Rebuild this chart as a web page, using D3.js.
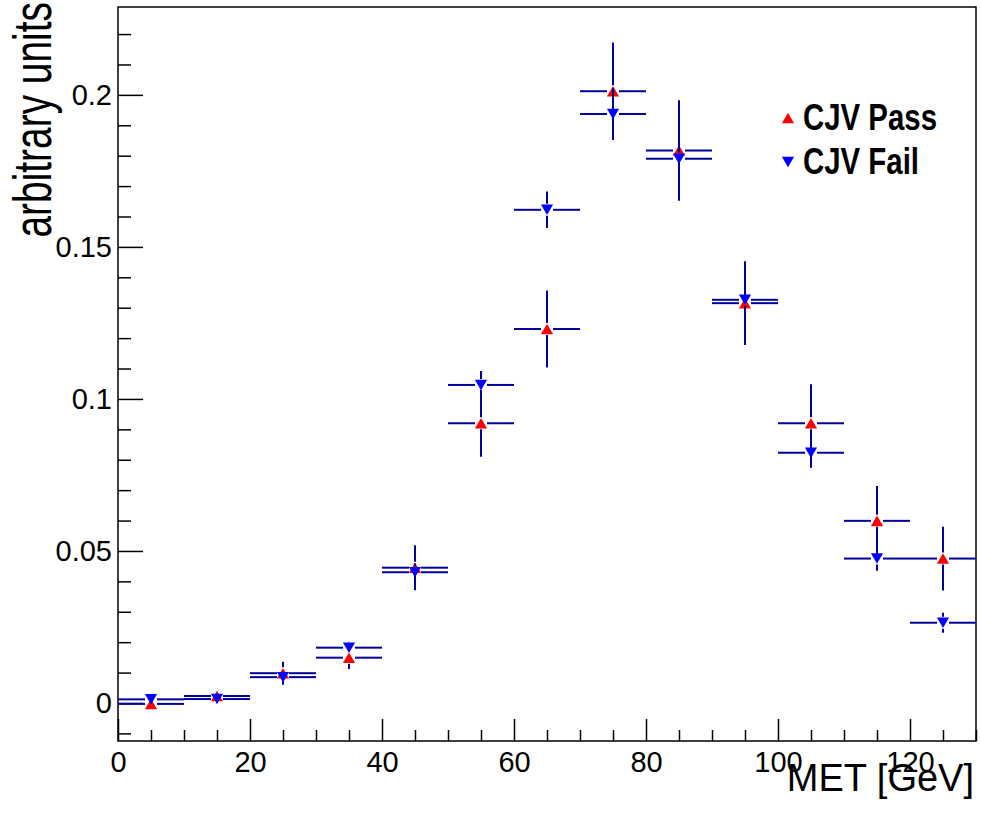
<!DOCTYPE html>
<html lang="en">
<head>
<meta charset="UTF-8">
<title>CJV Pass / Fail MET</title>
<style>
  body { margin: 0; background: #fff; }
  svg text { font-family: "Liberation Sans", Arial, Helvetica, sans-serif; }
</style>
</head>
<body>
<div id="chart"></div>
<script src="https://cdn.jsdelivr.net/npm/d3@7/dist/d3.min.js"></script>
<script>
// bin centres (GeV), each bin is 10 GeV wide
const binCenters = [5, 15, 25, 35, 45, 55, 65, 75, 85, 95, 105, 115, 125];
const binWidth = 10;

// CJV Pass
const passVals = [-0.0003, 0.0023, 0.0098, 0.0149, 0.0445, 0.092, 0.123, 0.2012, 0.1817, 0.1315, 0.092, 0.0599, 0.0475];
const passErr  = [0.0008, 0.0012, 0.0038, 0.0037, 0.0074, 0.011, 0.0127, 0.016, 0.0165, 0.0138, 0.0128, 0.0115, 0.0105];

// CJV Fail
const failVals = [0.0012, 0.0013, 0.0085, 0.0182, 0.043, 0.1046, 0.1622, 0.1937, 0.179, 0.1326, 0.0823, 0.0475, 0.0264];
const failErr  = [0.0005, 0.0007, 0.002, 0.002, 0.003, 0.0046, 0.006, 0.0085, 0.009, 0.0075, 0.0049, 0.004, 0.0033];

const seriesNames = ["CJV Pass", "CJV Fail"];
const xMajorTicks = [0, 20, 40, 60, 80, 100, 120];
const yMajorTicks = [0, 0.05, 0.1, 0.15, 0.2];
const yTickLabels = ["0", "0.05", "0.1", "0.15", "0.2"];

const width = 981, height = 827;
const plotLeft = 118, plotRight = 976, plotTop = 7, plotBottom = 741;

const svg = d3.select("#chart").append("svg")
  .attr("width", width)
  .attr("height", height);

const x = d3.scaleLinear().domain([0, 130]).range([plotLeft, plotRight]);
const y = d3.scaleLinear().domain([-0.0125, 0.2289]).range([plotBottom, plotTop]);

// frame
svg.append("rect")
  .attr("x", plotLeft).attr("y", plotTop)
  .attr("width", plotRight - plotLeft).attr("height", plotBottom - plotTop)
  .attr("fill", "none").attr("stroke", "#000").attr("stroke-width", 1.5);

// x axis: major + minor ticks pointing inward
const xMinor = d3.range(0, 131, 5).filter(v => v % 20 !== 0);
svg.append("g")
  .attr("transform", `translate(0,${plotBottom})`)
  .call(d3.axisBottom(x).tickValues(xMinor).tickSize(-11).tickFormat(""))
  .call(g => g.select(".domain").remove());
svg.append("g")
  .attr("transform", `translate(0,${plotBottom})`)
  .call(d3.axisBottom(x).tickValues(xMajorTicks).tickSize(-22).tickPadding(0).tickFormat(d3.format("d")))
  .call(g => g.select(".domain").remove())
  .call(g => g.selectAll("text").style("font-size", "29px").attr("fill", "#000")
    .attr("y", 0).attr("dy", null).attr("dominant-baseline", "auto").attr("transform", "translate(0,31)"));

// y axis
const yMinor = d3.range(-1, 23).map(i => i / 100).filter(v => Math.round(v * 100) % 5 !== 0);
svg.append("g")
  .attr("transform", `translate(${plotLeft},0)`)
  .call(d3.axisLeft(y).tickValues(yMinor).tickSize(-13).tickFormat(""))
  .call(g => g.select(".domain").remove());
svg.append("g")
  .attr("transform", `translate(${plotLeft},0)`)
  .call(d3.axisLeft(y).tickValues(yMajorTicks).tickSize(-25).tickPadding(6)
    .tickFormat((d, i) => yTickLabels[i]))
  .call(g => g.select(".domain").remove())
  .call(g => g.selectAll("text").style("font-size", "29px").attr("fill", "#000"));

svg.selectAll(".tick line").attr("stroke", "#000").attr("stroke-width", 1.5);

// axis titles
svg.append("text")
  .attr("x", 974).attr("y", 791)
  .attr("text-anchor", "end")
  .style("font-size", "38px")
  .text("MET [GeV]");

svg.append("text")
  .attr("transform", "translate(51,2) rotate(-90) scale(0.72,1)")
  .attr("text-anchor", "end")
  .style("font-size", "54px")
  .text("arbitrary units");

// markers
const triSize = 64;
const triH = Math.sqrt(triSize * 4 / Math.sqrt(3)) * Math.sqrt(3) / 2;
const triPath = d3.symbol().type(d3.symbolTriangle).size(triSize)();
const gap = 6;

function drawSeries(vals, errs, color, down) {
  const g = svg.append("g");
  const pts = binCenters.map((c, i) => ({ c, v: vals[i], e: errs[i] }));
  const lineColor = "#000099";

  pts.forEach(p => {
    const cx = x(p.c), cy = y(p.v);
    const x0 = x(p.c - binWidth / 2), x1 = x(p.c + binWidth / 2);
    const yTop = y(p.v + p.e), yBot = y(p.v - p.e);
    const segs = [
      [x0, cy, cx - gap, cy],
      [cx + gap, cy, x1, cy]
    ];
    if (cy - yTop > gap) segs.push([cx, cy - gap, cx, yTop]);
    if (yBot - cy > gap) segs.push([cx, cy + gap, cx, yBot]);
    segs.forEach(s => {
      g.append("line")
        .attr("x1", s[0]).attr("y1", s[1])
        .attr("x2", s[2]).attr("y2", s[3])
        .attr("stroke", lineColor).attr("stroke-width", 2);
    });
  });

  g.selectAll("path.m")
    .data(pts)
    .join("path")
    .attr("class", "m")
    .attr("d", triPath)
    .attr("fill", color)
    .attr("transform", d => down
      ? `translate(${x(d.c)},${y(d.v) - triH / 6}) rotate(180)`
      : `translate(${x(d.c)},${y(d.v) + triH / 6})`);
}

drawSeries(passVals, passErr, "#ff0000", false);
drawSeries(failVals, failErr, "#0000ff", true);

// legend
const legend = svg.append("g");
const legendItems = [
  { name: seriesNames[0], color: "#ff0000", down: false, y: 118 },
  { name: seriesNames[1], color: "#0000ff", down: true, y: 162 }
];
legendItems.forEach(it => {
  legend.append("path")
    .attr("d", triPath)
    .attr("fill", it.color)
    .attr("transform", it.down
      ? `translate(788,${it.y - triH / 6}) rotate(180)`
      : `translate(788,${it.y + triH / 6})`);
  legend.append("text")
    .attr("transform", `translate(803,${it.y + 12}) scale(0.84,1.04)`)
    .style("font-size", "35px")
    .style("font-weight", "bold")
    .text(it.name);
});
</script>
</body>
</html>
